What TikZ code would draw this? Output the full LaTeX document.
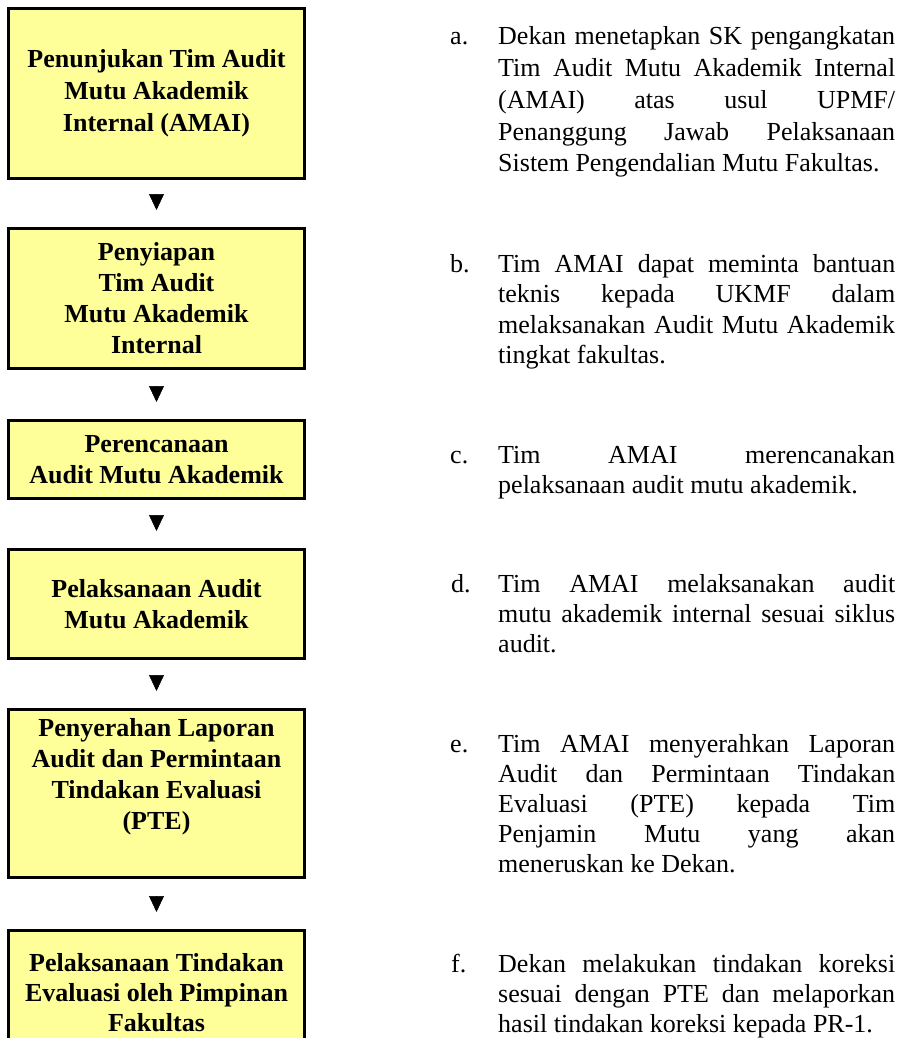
\documentclass[tikz,border=0pt]{standalone}
\usepackage{fontspec}
\setmainfont{Liberation Serif}
\usetikzlibrary{arrows.meta}
\definecolor{boxyellow}{HTML}{FFFF99}
\newlength\itw
\setlength\itw{397pt}
\newcommand\JL[1]{\makebox[\linewidth][s]{#1}\\}
\newcommand\itemtext[2]{\parbox[t]{\itw}{\fontsize{26}{#1}\selectfont\raggedright #2}}
\begin{document}
\begin{tikzpicture}[x=1pt,y=-1pt,
  stepbox/.style={draw=black, line width=3pt, fill=boxyellow, inner sep=0pt,
    minimum width=296pt, align=center, font=\fontsize{26}{31}\selectfont\bfseries},
  flowarrow/.style={-{Triangle[width=15pt,length=16pt]}, line width=0.5pt,
    shorten <=17pt, shorten >=17pt},
  itemlabel/.style={anchor=base west, inner sep=0pt, font=\fontsize{26}{30}\selectfont},
  itembody/.style={anchor=base west, inner sep=0pt}]
\useasboundingbox (0,0) rectangle (904,1038);
\clip (0,0) rectangle (904,1038);

% flow boxes
\node[stepbox, minimum height=170pt, font=\fontsize{26}{32}\selectfont\bfseries] (b1) at (156.5,93.5)
  {Penunjukan Tim Audit\\Mutu Akademik\\Internal (AMAI)};
\node[stepbox, minimum height=140pt] (b2) at (156.5,298.5)
  {Penyiapan\\Tim Audit\\Mutu Akademik\\Internal};
\node[stepbox, minimum height=78pt] (b3) at (156.5,459.5)
  {Perencanaan\\Audit Mutu Akademik};
\node[stepbox, minimum height=109pt] (b4) at (156.5,604)
  {Pelaksanaan Audit\\Mutu Akademik};
\node[stepbox, minimum height=168pt] (b5) at (156.5,793.5)
  {Penyerahan Laporan\\Audit dan Permintaan\\Tindakan Evaluasi\\(PTE)\\[8pt]\mbox{}};
\node[stepbox, minimum height=125pt, font=\fontsize{26}{30}\selectfont\bfseries] (b6) at (156.5,993)
  {Pelaksanaan Tindakan\\Evaluasi oleh Pimpinan\\Fakultas};

% connectors (arrowheads only)
\draw[flowarrow] (b1.south) -- (b2.north);
\draw[flowarrow] (b2.south) -- (b3.north);
\draw[flowarrow] (b3.south) -- (b4.north);
\draw[flowarrow] (b4.south) -- (b5.north);
\draw[flowarrow] (b5.south) -- (b6.north);

% descriptions
\node[itemlabel] (la) at (450,45) {a.};
\node[itembody] (ta) at (498,45) {\itemtext{31.7}{%
  \JL{Dekan menetapkan SK pengangkatan}
  \JL{Tim Audit Mutu Akademik Internal}
  \JL{(AMAI) atas usul UPMF/}
  \JL{Penanggung Jawab Pelaksanaan}
  Sistem Pengendalian Mutu Fakultas.}};

\node[itemlabel] (lb) at (450,272) {b.};
\node[itembody] (tb) at (498,272) {\itemtext{30.5}{%
  \JL{Tim AMAI dapat meminta bantuan}
  \JL{teknis kepada UKMF dalam}
  \JL{melaksanakan Audit Mutu Akademik}
  tingkat fakultas.}};

\node[itemlabel] (lc) at (450,463) {c.};
\node[itembody] (tc) at (498,463) {\itemtext{30}{%
  \JL{Tim AMAI merencanakan}
  pelaksanaan audit mutu akademik.}};

\node[itemlabel] (ld) at (451,592) {d.};
\node[itembody] (td) at (498,592) {\itemtext{30}{%
  \JL{Tim AMAI melaksanakan audit}
  \JL{mutu akademik internal sesuai siklus}
  audit.}};

\node[itemlabel] (le) at (450,752) {e.};
\node[itembody] (te) at (498,752) {\itemtext{30}{%
  \JL{Tim AMAI menyerahkan Laporan}
  \JL{Audit dan Permintaan Tindakan}
  \JL{Evaluasi (PTE) kepada Tim}
  \JL{Penjamin Mutu yang akan}
  meneruskan ke Dekan.}};

\node[itemlabel] (lf) at (451,972) {f.};
\node[itembody] (tf) at (498,972) {\itemtext{30}{%
  \JL{Dekan melakukan tindakan koreksi}
  \JL{sesuai dengan PTE dan melaporkan}
  hasil tindakan koreksi kepada PR-1.}};
\end{tikzpicture}
\end{document}
